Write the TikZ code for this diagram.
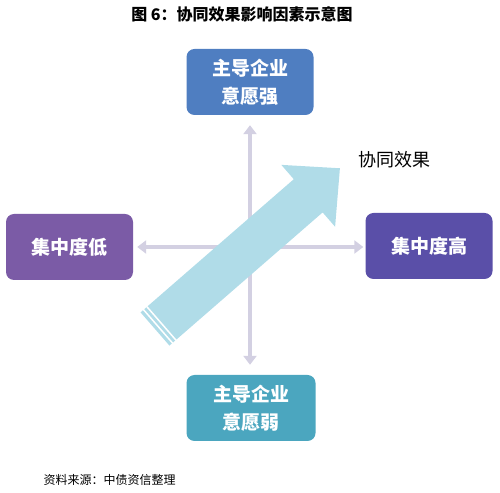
\documentclass[tikz,border=0pt]{standalone}
\usepackage{fontspec}
\newfontfamily\cjk{Noto Sans CJK SC}
\usetikzlibrary{arrows.meta}
\definecolor{topblue}{HTML}{4F7EC1}
\definecolor{lowteal}{HTML}{4BA6BF}
\definecolor{lowpurple}{HTML}{7B5BA6}
\definecolor{highpurple}{HTML}{5A4FA8}
\definecolor{axisgray}{HTML}{D3D0E2}
\definecolor{arrowblue}{HTML}{B0DCE8}
\begin{document}
\begin{tikzpicture}
           [x=1pt,y=1pt,
            box/.style={rounded corners=8pt,minimum width=127pt,minimum height=66pt,
              text=white,align=center,font=\cjk\bfseries\fontsize{19}{28}\selectfont},
            axis/.style={axisgray,line width=4pt,
              {Triangle[length=9pt,width=13pt]}-{Triangle[length=9pt,width=13pt]}}]
           \useasboundingbox (0,0) rectangle (500,492);

           \node (title) at (242,478) {\cjk\bfseries\fontsize{16}{18}\selectfont 图 6：协同效果影响因素示意图};

           \node[box,fill=topblue] (strong) at (250,410) {主导企业\\意愿强};
           \node[box,fill=lowteal,minimum width=129pt] (weak) at (251,84) {主导企业\\意愿弱};
           \node[box,fill=lowpurple] (low) at (69.5,245) {集中度低};
           \node[box,fill=highpurple] (high) at (429,246) {集中度高};

           \draw[axis,shorten <=10pt,shorten >=10pt] (strong.south) -- (weak.north -| strong.south);
           \draw[axis,shorten <=4pt,shorten >=2pt] (low.east) -- (high.west |- low.east);

           % big arrow
           \begin{scope}[shift={(155,163)},rotate=41]
             \fill[arrowblue] (0,-22) -- (203,-22) -- (203,-41) -- (245,0)
               -- (203,41) -- (203,22) -- (0,22) -- cycle;
             \draw[white,line width=1.5pt] (4,-23) -- (4,23);
             \draw[white,line width=1.5pt] (8.5,-23) -- (8.5,23);
           \end{scope}

           \node (effect) at (394,332) {\cjk\fontsize{18}{20}\selectfont 协同效果};

           \node[anchor=west] (source) at (40,12) {\cjk\fontsize{12}{14}\selectfont 资料来源：中债资信整理};
         \end{tikzpicture}
\end{document}
